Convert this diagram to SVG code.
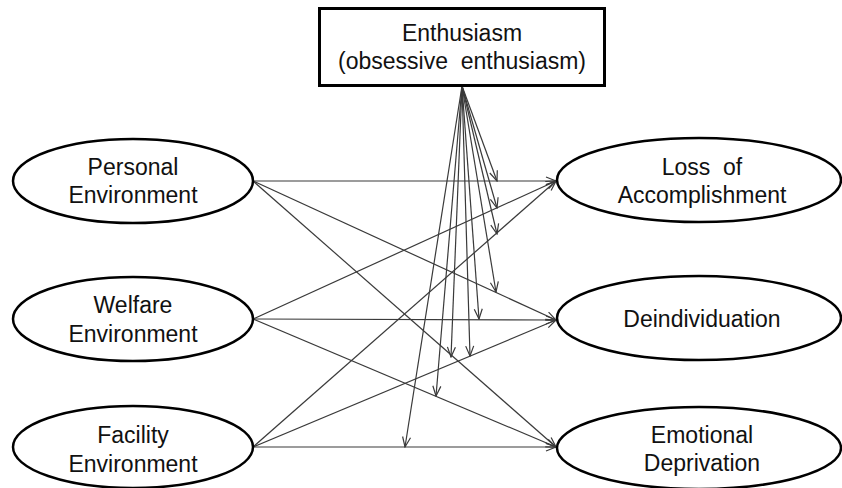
<svg xmlns="http://www.w3.org/2000/svg" width="842" height="488" viewBox="0 0 842 488">
<style>
text{font-family:"Liberation Sans",Arial,sans-serif;font-size:23px;fill:#111;text-anchor:middle;white-space:pre}
.node ellipse{fill:#fff;stroke:#000;stroke-width:2.5}
.node rect{fill:#fff;stroke:#000;stroke-width:3}
#connectors line{stroke:#3a3a3a;stroke-width:1.2;fill:none;marker-end:url(#arr)}
</style>
<defs>
<marker id="arr" markerUnits="userSpaceOnUse" markerWidth="12" markerHeight="10" refX="11" refY="5" orient="auto">
<path d="M1,1 L11,5 L1,9" fill="none" stroke="#3a3a3a" stroke-width="1.2"/>
</marker>
</defs>
<rect width="842" height="488" fill="#fff"/>
<g id="connectors">
<line x1="253" y1="181" x2="556" y2="181"/>
<line x1="253" y1="181" x2="556" y2="320"/>
<line x1="253" y1="181" x2="556" y2="447"/>
<line x1="253" y1="319" x2="556" y2="181"/>
<line x1="253" y1="319" x2="556" y2="320"/>
<line x1="253" y1="319" x2="556" y2="447"/>
<line x1="253" y1="447" x2="556" y2="181"/>
<line x1="253" y1="447" x2="556" y2="320"/>
<line x1="253" y1="447" x2="556" y2="447"/>
<line x1="462" y1="86" x2="497" y2="181"/>
<line x1="462" y1="86" x2="497" y2="208"/>
<line x1="462" y1="86" x2="497" y2="234"/>
<line x1="462" y1="86" x2="496" y2="292"/>
<line x1="462" y1="86" x2="479" y2="319"/>
<line x1="462" y1="86" x2="470" y2="356"/>
<line x1="462" y1="86" x2="451" y2="357"/>
<line x1="462" y1="86" x2="436" y2="396"/>
<line x1="462" y1="86" x2="405" y2="447"/>
</g>
<g id="enthusiasm" class="node">
<rect x="319.5" y="8.5" width="285" height="77"/>
<text x="462" y="41">Enthusiasm</text>
<text x="462" y="69" xml:space="preserve">(obsessive  enthusiasm)</text>
</g>
<g id="personal" class="node">
<ellipse cx="133" cy="181" rx="120" ry="42"/>
<text x="133" y="175">Personal</text>
<text x="133" y="203">Environment</text>
</g>
<g id="welfare" class="node">
<ellipse cx="133" cy="319" rx="120" ry="42"/>
<text x="133" y="313">Welfare</text>
<text x="133" y="342">Environment</text>
</g>
<g id="facility" class="node">
<ellipse cx="133" cy="447" rx="120" ry="41"/>
<text x="133" y="443">Facility</text>
<text x="133" y="472">Environment</text>
</g>
<g id="loss" class="node">
<ellipse cx="699" cy="180" rx="142" ry="42"/>
<text x="702" y="175" xml:space="preserve">Loss  of</text>
<text x="702" y="203">Accomplishment</text>
</g>
<g id="deind" class="node">
<ellipse cx="699" cy="318" rx="142" ry="42"/>
<text x="702" y="327">Deindividuation</text>
</g>
<g id="emotional" class="node">
<ellipse cx="699" cy="448" rx="142" ry="41"/>
<text x="702" y="443">Emotional</text>
<text x="702" y="471">Deprivation</text>
</g>
</svg>
